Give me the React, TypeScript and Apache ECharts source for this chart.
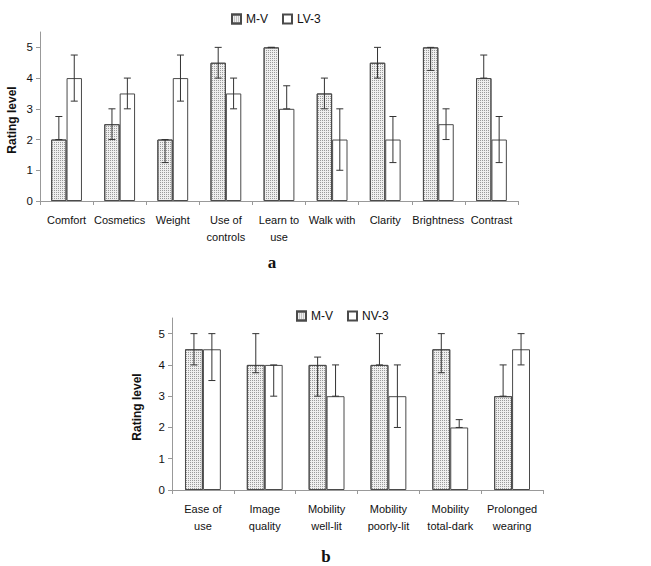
import React, { useEffect, useRef } from "react";
import * as echarts from "echarts";

const categoriesA = ["Comfort", "Cosmetics", "Weight", "Use of\ncontrols", "Learn to\nuse", "Walk with", "Clarity", "Brightness", "Contrast"];
const mvA = [2, 2.5, 2, 4.5, 5, 3.5, 4.5, 5, 4];
const mvALow = [2, 2, 1.25, 4, 5, 3, 4, 4.25, 4];
const mvAHigh = [2.75, 3, 2, 5, 5, 4, 5, 5, 4.75];
const lvA = [4, 3.5, 4, 3.5, 3, 2, 2, 2.5, 2];
const lvALow = [3.25, 3, 3.25, 3, 3, 1, 1.25, 2, 1.25];
const lvAHigh = [4.75, 4, 4.75, 4, 3.75, 3, 2.75, 3, 2.75];

const categoriesB = ["Ease of\nuse", "Image\nquality", "Mobility\nwell-lit", "Mobility\npoorly-lit", "Mobility\ntotal-dark", "Prolonged\nwearing"];
const mvB = [4.5, 4, 4, 4, 4.5, 3];
const mvBLow = [4, 3.75, 3, 4, 3.75, 3];
const mvBHigh = [5, 5, 4.25, 5, 5, 4];
const nvB = [4.5, 4, 3, 3, 2, 4.5];
const nvBLow = [3.5, 3, 3, 2, 2, 4];
const nvBHigh = [5, 4, 4, 4, 2.25, 5];

const yTicks = [0, 1, 2, 3, 4, 5];

const FONT = "'Liberation Sans', Arial, sans-serif";
const BAR_W = 0.29;

const dotted = {
  color: "#efefef",
  borderColor: "#4a4a4a",
  borderWidth: 1,
  decal: {
    symbol: "rect",
    symbolSize: 1,
    dashArrayX: [1, 1],
    dashArrayY: [1, 1],
    color: "#9a9a9a",
  },
};
const plain = { color: "#ffffff", borderColor: "#4a4a4a", borderWidth: 1 };

function errSeries(idx: number, low: number[], high: number[], side: number) {
  return {
    type: "custom",
    xAxisIndex: idx,
    yAxisIndex: idx,
    z: 5,
    silent: true,
    data: low.map((l, i) => [i, l, high[i]]),
    encode: { x: 0, y: [1, 2] },
    renderItem: (params: any, api: any) => {
      const i = api.value(0);
      const lo = api.coord([i, api.value(1)]);
      const hi = api.coord([i, api.value(2)]);
      const band = api.size([1, 0])[0];
      const x = lo[0] + side * band * BAR_W / 2;
      const cap = 3.5;
      const st = { stroke: "#333", lineWidth: 1 };
      return {
        type: "group",
        children: [
          { type: "line", shape: { x1: x, y1: lo[1], x2: x, y2: hi[1] }, style: st },
          { type: "line", shape: { x1: x - cap, y1: lo[1], x2: x + cap, y2: lo[1] }, style: st },
          { type: "line", shape: { x1: x - cap, y1: hi[1], x2: x + cap, y2: hi[1] }, style: st },
        ],
      };
    },
  };
}

function xAxisCfg(idx: number, cats: string[]) {
  return {
    type: "category",
    gridIndex: idx,
    data: cats,
    axisLine: { lineStyle: { color: "#999", width: 1 } },
    axisTick: { show: true, length: 4, lineStyle: { color: "#999" } },
    axisLabel: { color: "#111", fontSize: 11, fontFamily: FONT, margin: 10, lineHeight: 17, interval: 0 },
  };
}

function yAxisCfg(idx: number) {
  return {
    type: "value",
    gridIndex: idx,
    min: 0,
    max: 5.5,
    interval: 1,
    splitLine: { show: false },
    axisLine: { show: true, lineStyle: { color: "#999", width: 1 } },
    axisTick: { show: true, length: 4, lineStyle: { color: "#999" }, customValues: yTicks },
    axisLabel: {
      color: "#111",
      fontSize: 11.5,
      fontFamily: FONT,
      margin: 7,
      customValues: yTicks,
      formatter: (v: number) => (v > 5 ? "" : String(v)),
    },
  };
}

export default function App() {
  const ref = useRef<HTMLDivElement>(null);
  useEffect(() => {
    if (!ref.current) return;
    const chart = echarts.init(ref.current, null, { renderer: "svg" });
    const legendText = { fontSize: 12, fontFamily: FONT, color: "#111" };
    chart.setOption({
      animation: false,
      backgroundColor: "#fff",
      grid: [
        { left: 40, top: 32, right: 133, bottom: 365, containLabel: false },
        { left: 172, top: 318, right: 108, bottom: 76, containLabel: false },
      ],
      legend: [
        { data: ["M-V", "LV-3"], left: 226, top: 8, itemWidth: 9, itemHeight: 9, itemGap: 14, textStyle: legendText, icon: "rect", selectedMode: false },
        { data: ["M-V", "NV-3"], left: 291, top: 305, itemWidth: 9, itemHeight: 9, itemGap: 14, textStyle: legendText, icon: "rect", selectedMode: false },
      ],
      xAxis: [xAxisCfg(0, categoriesA), xAxisCfg(1, categoriesB)],
      yAxis: [yAxisCfg(0), yAxisCfg(1)],
      series: [
        { name: "M-V", type: "bar", xAxisIndex: 0, yAxisIndex: 0, data: mvA, barWidth: BAR_W * 100 + "%", barGap: "0%", itemStyle: dotted },
        { name: "LV-3", type: "bar", xAxisIndex: 0, yAxisIndex: 0, data: lvA, barWidth: BAR_W * 100 + "%", barGap: "0%", itemStyle: plain },
        { name: "M-V", type: "bar", xAxisIndex: 1, yAxisIndex: 1, data: mvB, barWidth: BAR_W * 100 + "%", barGap: "0%", itemStyle: dotted },
        { name: "NV-3", type: "bar", xAxisIndex: 1, yAxisIndex: 1, data: nvB, barWidth: BAR_W * 100 + "%", barGap: "0%", itemStyle: plain },
        errSeries(0, mvALow, mvAHigh, -1),
        errSeries(0, lvALow, lvAHigh, 1),
        errSeries(1, mvBLow, mvBHigh, -1),
        errSeries(1, nvBLow, nvBHigh, 1),
      ],
      graphic: [
        { type: "text", x: 12, y: 120, rotation: Math.PI / 2, style: { text: "Rating level", font: `bold 12px ${FONT}`, fill: "#111", align: "center", verticalAlign: "middle" } },
        { type: "text", x: 137, y: 407, rotation: Math.PI / 2, style: { text: "Rating level", font: `bold 12px ${FONT}`, fill: "#111", align: "center", verticalAlign: "middle" } },
        { type: "text", x: 272, y: 262, style: { text: "a", font: `bold 17px 'Liberation Serif', 'Times New Roman', serif`, fill: "#111", align: "center", verticalAlign: "middle" } },
        { type: "text", x: 326, y: 556, style: { text: "b", font: `bold 17px 'Liberation Serif', 'Times New Roman', serif`, fill: "#111", align: "center", verticalAlign: "middle" } },
      ],
    });
    return () => chart.dispose();
  }, []);
  return <div ref={ref} style={{ position: "absolute", left: 0, top: 0, width: 651, height: 566 }} />;
}
